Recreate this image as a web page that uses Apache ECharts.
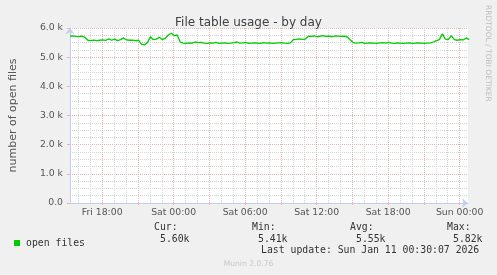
<!DOCTYPE html>
<html><head><meta charset="utf-8">
<script src="https://cdn.jsdelivr.net/npm/echarts@6/dist/echarts.min.js"></script>
<style>html,body{margin:0;padding:0;background:#f0f0f0}#c{width:497px;height:275px}</style>
</head><body><div id="c"></div>
<script>
// hours relative to Sat 00:00, sampled every 15 minutes
const startHour = -8.7;
const stepHour = 0.25;
const openFiles = [
  5720, 5730, 5715, 5705, 5720,
  5680,
  5580, 5570, 5585, 5570, 5580, 5590, 5575, 5630, 5580, 5620, 5570, 5600, 5660, 5590, 5580, 5585, 5570, 5580,
  5450, 5420, 5500,
  5700, 5600, 5620, 5680, 5600, 5650, 5760, 5820, 5740, 5760,
  5520,
  5480, 5470, 5490, 5480, 5520, 5500, 5510, 5480, 5470, 5490, 5480, 5510, 5470, 5480, 5490, 5470, 5480, 5500, 5520, 5480, 5490, 5510, 5470, 5480, 5490, 5480, 5470, 5500, 5480, 5490, 5470, 5480, 5490, 5500, 5480, 5470, 5490,
  5600, 5610, 5630, 5610, 5620,
  5720, 5710, 5730, 5700, 5720, 5740, 5710, 5720, 5700, 5730, 5720, 5710, 5720, 5700,
  5600,
  5500,
  5480, 5490, 5510, 5470, 5480, 5490, 5480, 5470, 5490, 5500, 5480, 5510, 5480, 5470, 5490, 5480, 5470, 5480, 5490, 5470, 5480, 5490, 5480, 5470, 5480, 5490,
  5520, 5570, 5600, 5800, 5620, 5600, 5740, 5600, 5580, 5600, 5590, 5660, 5600
];
const xMin = -8.7, xMax = 24.7;
const majorHours = [-6, -3, 0, 3, 6, 9, 12, 15, 18, 21, 24];
const minorHours = [-8, -7, -6, -5, -4, -3, -2, -1, 0, 1, 2, 3, 4, 5, 6, 7, 8, 9, 10, 11, 12, 13, 14, 15, 16, 17, 18, 19, 20, 21, 22, 23, 24];
const labelHours = [-6, 0, 6, 12, 18, 24];
const labelTexts = ['Fri 18:00', 'Sat 00:00', 'Sat 06:00', 'Sat 12:00', 'Sat 18:00', 'Sun 00:00'];
const yTicks = [0, 1000, 2000, 3000, 4000, 5000, 6000];
const yTickLabels = ['0.0', '1.0 k', '2.0 k', '3.0 k', '4.0 k', '5.0 k', '6.0 k'];
const statHeads = ['Cur:', 'Min:', 'Avg:', 'Max:'];
const statValues = ['5.60k', '5.41k', '5.55k', '5.82k'];
const seriesName = 'open files';
const titleText = 'File table usage - by day';
const yName = 'number of open files';
const lastUpdate = 'Last update: Sun Jan 11 00:30:07 2026';
const footer = 'Munin 2.0.76';
const sideText = 'RRDTOOL / TOBI OETIKER';

const SANS = 'DejaVu Sans';
const MONO = 'DejaVu Sans Mono';
const axisCol = '#c4ccf4';
const majorCol = '#e6b4b4';
const minorCol = '#d4d4d4';

const chart = echarts.init(document.getElementById('c'), null, {renderer: 'canvas'});
const statHeadX = [154, 252, 350, 447];
const statValX = [160, 258, 356, 453];
const graphics = [];
statHeads.forEach((t, i) => graphics.push({type: 'text', left: statHeadX[i], top: 222, style: {text: t, font: '9.8px "' + MONO + '"', fill: '#333'}}));
statValues.forEach((t, i) => graphics.push({type: 'text', left: statValX[i], top: 234, style: {text: t, font: '9.8px "' + MONO + '"', fill: '#333'}}));
graphics.push({type: 'text', left: 261, top: 245, style: {text: lastUpdate, font: '9.8px "' + MONO + '"', fill: '#333'}});
graphics.push({type: 'text', left: 'center', top: 260, style: {text: footer, font: '7.6px "' + SANS + '"', fill: '#c8c8c8'}});
graphics.push({type: 'text', x: 492, y: 5, rotation: -Math.PI / 2, style: {text: sideText, font: '7.5px "' + SANS + '"', fill: '#bdbdbd'}});

chart.setOption({
  backgroundColor: '#f0f0f0',
  animation: false,
  title: {text: titleText, left: 'center', top: 12, textStyle: {fontFamily: SANS, fontSize: 12, fontWeight: 'normal', color: '#404040'}},
  grid: {left: 67, right: 29, top: 28, bottom: 72, show: true, backgroundColor: '#ffffff', borderWidth: 0},
  legend: {left: 9, top: 233, icon: 'rect', itemWidth: 6, itemHeight: 6, itemGap: 5,
    textStyle: {fontFamily: MONO, fontSize: 9.8, color: '#333', padding: [0, 0, 0, 1]}, data: [seriesName]},
  xAxis: [
    {type: 'value', min: xMin, max: xMax, position: 'bottom',
      axisLine: {show: false, onZero: false}, axisLabel: {show: false},
      axisTick: {show: false, customValues: minorHours},
      splitLine: {show: true, lineStyle: {color: minorCol, type: [1, 1], width: 1}}},
    {type: 'value', min: xMin, max: xMax, position: 'bottom',
      axisLine: {show: true, onZero: false, lineStyle: {color: axisCol, width: 1}, symbol: ['none', 'arrow'], symbolSize: [7, 6]},
      axisTick: {show: true, customValues: majorHours, length: 2, lineStyle: {color: majorCol}},
      axisLabel: {customValues: labelHours, margin: 5, fontFamily: SANS, fontSize: 9.3, color: '#555',
        formatter: v => { const k = labelHours.indexOf(Math.round(v)); return k >= 0 ? labelTexts[k] : ''; }},
      splitLine: {show: true, lineStyle: {color: majorCol, type: [1, 1], width: 1}}}
  ],
  yAxis: {type: 'value', min: 0, max: 6000, interval: 1000,
    name: yName, nameLocation: 'middle', nameGap: 51, nameTextStyle: {fontFamily: SANS, fontSize: 11, color: '#555'},
    axisLine: {show: true, onZero: false, lineStyle: {color: axisCol, width: 1}, symbol: ['none', 'arrow'], symbolSize: [7, 6]},
    axisTick: {show: true, length: 3, lineStyle: {color: majorCol}},
    minorTick: {show: false, splitNumber: 4},
    minorSplitLine: {show: true, lineStyle: {color: minorCol, type: [1, 1], width: 1}},
    axisLabel: {margin: 7, fontFamily: SANS, fontSize: 9.3, color: '#555',
      formatter: v => { const k = yTicks.indexOf(v); return k >= 0 ? yTickLabels[k] : ''; }},
    splitLine: {show: true, lineStyle: {color: majorCol, type: [1, 1], width: 1}}},
  series: [{
    name: seriesName, type: 'line', xAxisIndex: 1, showSymbol: false, symbol: 'none', clip: true,
    itemStyle: {color: '#00cc00'},
    lineStyle: {color: '#00cc00', width: 1.3},
    data: openFiles.map((v, i) => [startHour + i * stepHour, v])
  }],
  graphic: graphics
});
</script></body></html>
